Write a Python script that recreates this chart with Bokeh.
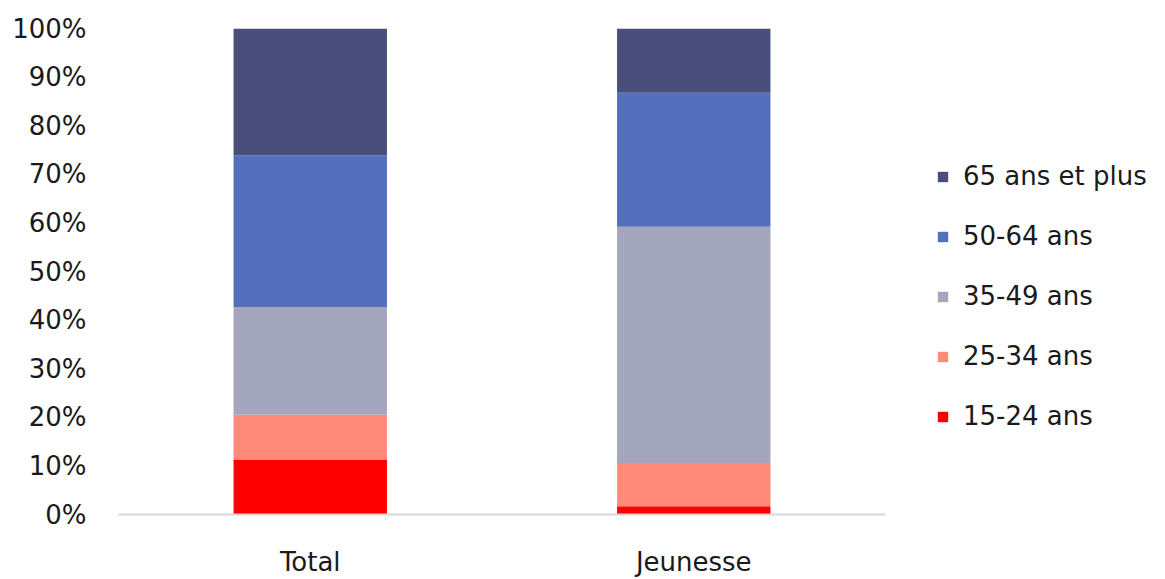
from bokeh.plotting import figure
from bokeh.models import ColumnDataSource, Legend, LegendItem, FixedTicker, FactorRange, Range1d
from bokeh.embed import file_html
from bokeh.resources import INLINE

categories = ["Total", "Jeunesse"]
age_groups = ["15-24 ans", "25-34 ans", "35-49 ans", "50-64 ans", "65 ans et plus"]
v_15_24 = [11.3, 1.7]
v_25_34 = [9.2, 8.9]
v_35_49 = [22.2, 48.6]
v_50_64 = [31.2, 27.6]
v_65_plus = [26.1, 13.2]
colors = ["#FF0000", "#FF8A7A", "#A4A6BE", "#5470BC", "#4A4E7A"]
y_ticks = [0, 10, 20, 30, 40, 50, 60, 70, 80, 90, 100]
y_tick_labels = [f"{t}%" for t in y_ticks]

FONT = "DejaVu Sans"
FSIZE = "26px"

source = ColumnDataSource(data={
    "cat": categories,
    "15-24 ans": v_15_24,
    "25-34 ans": v_25_34,
    "35-49 ans": v_35_49,
    "50-64 ans": v_50_64,
    "65 ans et plus": v_65_plus,
})

p = figure(x_range=FactorRange(*categories), y_range=Range1d(0, 100),
           frame_width=767, frame_height=486, output_backend="svg", toolbar_location=None,
           min_border_left=118, min_border_right=0, min_border_top=28, min_border_bottom=40)
p.x_range.range_padding = 0

renderers = p.vbar_stack(age_groups, x="cat", width=0.40, source=source,
                         color=colors, line_color=None)

items = [LegendItem(label=g, renderers=[r]) for g, r in zip(age_groups, renderers)]
items.reverse()
legend = Legend(items=items, location=(51, 83), orientation="vertical",
                border_line_color=None, background_fill_alpha=0,
                glyph_width=13, glyph_height=13, label_height=30,
                spacing=30, label_standoff=14, padding=5, margin=45,
                label_text_font=FONT, label_text_font_size=FSIZE,
                label_text_color="#1a1a1a")
p.add_layout(legend, "right")

p.outline_line_color = None
p.xgrid.visible = False
p.ygrid.visible = False

p.yaxis.ticker = FixedTicker(ticks=y_ticks)
p.yaxis.major_label_overrides = {t: l for t, l in zip(y_ticks, y_tick_labels)}
p.yaxis.axis_line_color = None
p.yaxis.major_tick_line_color = None
p.yaxis.major_tick_out = 0
p.yaxis.major_tick_in = 0
p.yaxis.minor_tick_line_color = None
p.yaxis.major_label_standoff = 32
p.yaxis.major_label_text_font = FONT
p.yaxis.major_label_text_font_size = FSIZE
p.yaxis.major_label_text_color = "#1a1a1a"

p.xaxis.axis_line_color = "#D9D9D9"
p.xaxis.axis_line_width = 2
p.xaxis.major_tick_line_color = None
p.xaxis.major_tick_out = 0
p.xaxis.major_tick_in = 0
p.xaxis.minor_tick_line_color = None
p.xaxis.major_label_standoff = 32
p.xaxis.major_label_text_font = FONT
p.xaxis.major_label_text_font_size = FSIZE
p.xaxis.major_label_text_color = "#1a1a1a"

open("out.html", "w").write(file_html(p, INLINE))
